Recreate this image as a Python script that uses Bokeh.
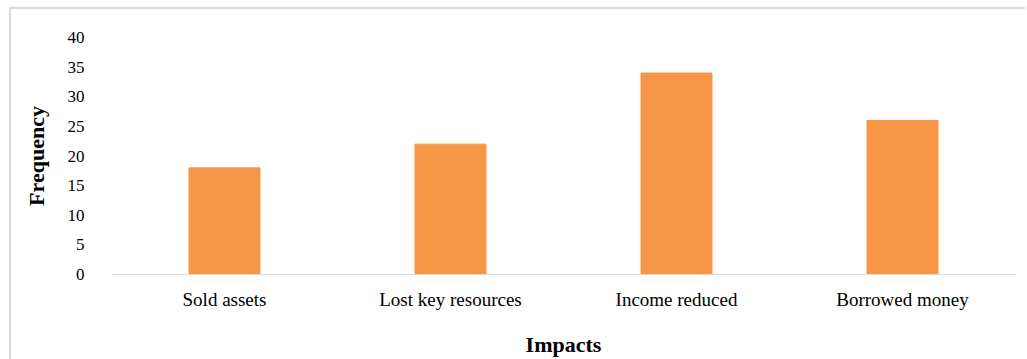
from bokeh.plotting import figure
from bokeh.embed import file_html
from bokeh.resources import INLINE
from bokeh.models import ColumnDataSource, FactorRange

# Survey results: reported impacts and how often each was mentioned
impacts = ["Sold assets", "Lost key resources", "Income reduced", "Borrowed money"]
frequency = [18, 22, 34, 26]
y_ticks = [0, 5, 10, 15, 20, 25, 30, 35, 40]

source = ColumnDataSource(data=dict(impact=impacts, frequency=frequency))

FONT = "Liberation Serif"
TEXT = "#000000"

p = figure(
    x_range=FactorRange(*impacts, range_padding=0),
    y_range=(0, 40),
    frame_width=904,
    frame_height=237,
    output_backend="svg",
    toolbar_location=None,
    min_border_left=100,
    min_border_right=10,
    min_border_top=28,
    min_border_bottom=78,
)
# light frame along the top and left of the chart area
p.styles = {
    "margin-left": "9px",
    "margin-top": "7px",
    "border-left": "2px solid #d9d9d9",
    "border-top": "2px solid #d9d9d9",
}

p.vbar(x="impact", top="frequency", width=0.314, source=source,
       fill_color="#F79646", line_color="#F79646")

p.outline_line_color = None
p.grid.grid_line_color = None
p.background_fill_color = "white"
p.border_fill_color = "white"

# category axis
xa = p.xaxis[0]
xa.axis_line_color = "#d9d9d9"
xa.axis_line_width = 1
xa.major_tick_line_color = None
xa.minor_tick_line_color = None
xa.major_label_standoff = 8
xa.major_label_text_font = FONT
xa.major_label_text_font_size = "19px"
xa.major_label_text_color = TEXT
xa.axis_label = "Impacts"
xa.axis_label_text_font = FONT
xa.axis_label_text_font_style = "bold"
xa.axis_label_text_font_size = "22px"
xa.axis_label_text_color = TEXT
xa.axis_label_standoff = 19

# value axis
ya = p.yaxis[0]
ya.ticker = y_ticks
ya.axis_line_color = None
ya.major_tick_line_color = None
ya.minor_tick_line_color = None
ya.major_label_standoff = 21
ya.major_label_text_font = FONT
ya.major_label_text_font_size = "17px"
ya.major_label_text_color = TEXT
ya.axis_label = "Frequency"
ya.axis_label_text_font = FONT
ya.axis_label_text_font_style = "bold"
ya.axis_label_text_font_size = "22px"
ya.axis_label_text_color = TEXT
ya.axis_label_standoff = 16

open("out.html", "w").write(file_html(p, INLINE))
